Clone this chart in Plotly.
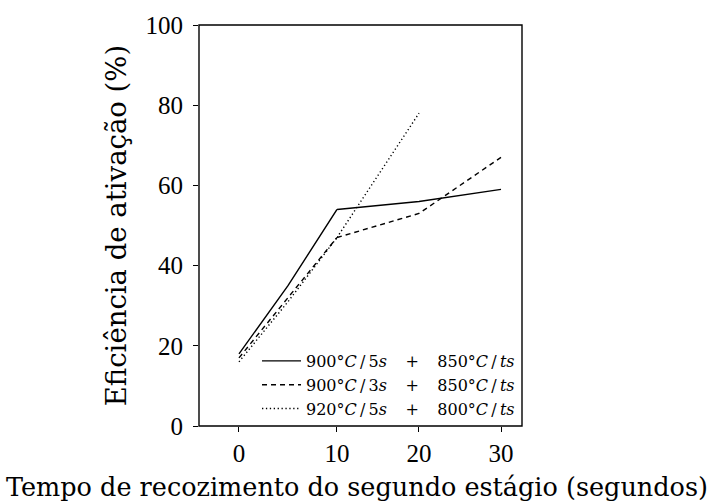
import plotly.graph_objects as go

# Annealing time of the second stage (s) and activation efficiency (%)
tempo = [0, 5, 10, 20, 30]
ef_900_5s_850 = [18, 35, 54, 56, 59]
ef_900_3s_850 = [17, 32, 47, 53, 67]
tempo_920 = [0, 5, 10, 20]
ef_920_5s_800 = [16, 31, 47, 78]

x_ticks_a = [0, 10]
x_ticks_b = [20, 30]
y_ticks = [0, 20, 40, 60, 80, 100]

SP = "\u00a0"
TH = "\u2009"
PLUS = f"{SP * 3}{TH}+{SP * 3}{TH}"
SL = f"{TH}/{TH}"


def label(t1, s1, t2):
    return (f"{t1}°<i>C</i>{SL}{s1}<i>s</i>{PLUS}"
            f"{t2}°<i>C</i>{SL}<i>ts</i>")


series = [
    (label(900, 5, 850), tempo, ef_900_5s_850, "solid"),
    (label(900, 3, 850), tempo, ef_900_3s_850, "5px,4px"),
    (label(920, 5, 800), tempo_920, ef_920_5s_800, "1.3px,2.6px"),
]

# the time scale is drawn in two pieces: 0-10 s and 10-30 s
SPLIT = 10

fig = go.Figure()
for i, (name, xs, ys, dash) in enumerate(series):
    first = [(x, y) for x, y in zip(xs, ys) if x <= SPLIT]
    second = [(x, y) for x, y in zip(xs, ys) if x >= SPLIT]
    line = dict(color="black", width=1.4, dash=dash)
    fig.add_trace(go.Scatter(
        x=[p[0] for p in first], y=[p[1] for p in first],
        mode="lines", line=line, name=name, legendgroup=f"s{i}",
        xaxis="x", yaxis="y", showlegend=True))
    fig.add_trace(go.Scatter(
        x=[p[0] for p in second], y=[p[1] for p in second],
        mode="lines", line=line, name=name, legendgroup=f"s{i}",
        xaxis="x2", yaxis="y", showlegend=False))

tick_font = dict(family="Liberation Serif", size=25, color="black")
split_pos = 0.4272
range_a = [-4.08, 10]
range_b = [10, 32.56]

tick_style = dict(showgrid=False, zeroline=False, showline=False,
                  ticks="outside", ticklen=5, tickwidth=1, tickcolor="black",
                  tickfont=tick_font, fixedrange=True)

fig.update_layout(
    width=715, height=503,
    margin=dict(l=199, r=193, t=22, b=77),
    paper_bgcolor="white", plot_bgcolor="white",
    xaxis=dict(domain=[0, split_pos], range=range_a, tickvals=x_ticks_a,
               anchor="y", ticklabelstandoff=0, **tick_style),
    xaxis2=dict(domain=[split_pos, 1], range=range_b, tickvals=x_ticks_b,
                anchor="y", ticklabelstandoff=0, **tick_style),
    yaxis=dict(range=[0, 100], tickvals=y_ticks, ticklabelstandoff=5,
               title=dict(text="Eficiência de ativação (%)",
                          font=dict(family="DejaVu Serif", size=27.5, color="black"),
                          standoff=10),
               **tick_style),
    legend=dict(
        x=0.1796, y=0.0, xanchor="left", yanchor="bottom",
        bgcolor="rgba(0,0,0,0)", borderwidth=0,
        font=dict(family="DejaVu Serif", size=16, color="black"),
        tracegroupgap=0, itemwidth=39,
    ),
    shapes=[dict(type="rect", xref="paper", yref="paper",
                 x0=0, x1=1, y0=0, y1=1,
                 line=dict(color="black", width=1.4), layer="above")],
    annotations=[dict(
        text="Tempo de recozimento do segundo estágio (segundos)",
        xref="paper", yref="paper", x=0.49, y=0,
        xanchor="center", yanchor="middle", yshift=-61, showarrow=False,
        font=dict(family="DejaVu Serif", size=25.5, color="black"))],
    showlegend=True,
)

fig.write_html("out.html")
